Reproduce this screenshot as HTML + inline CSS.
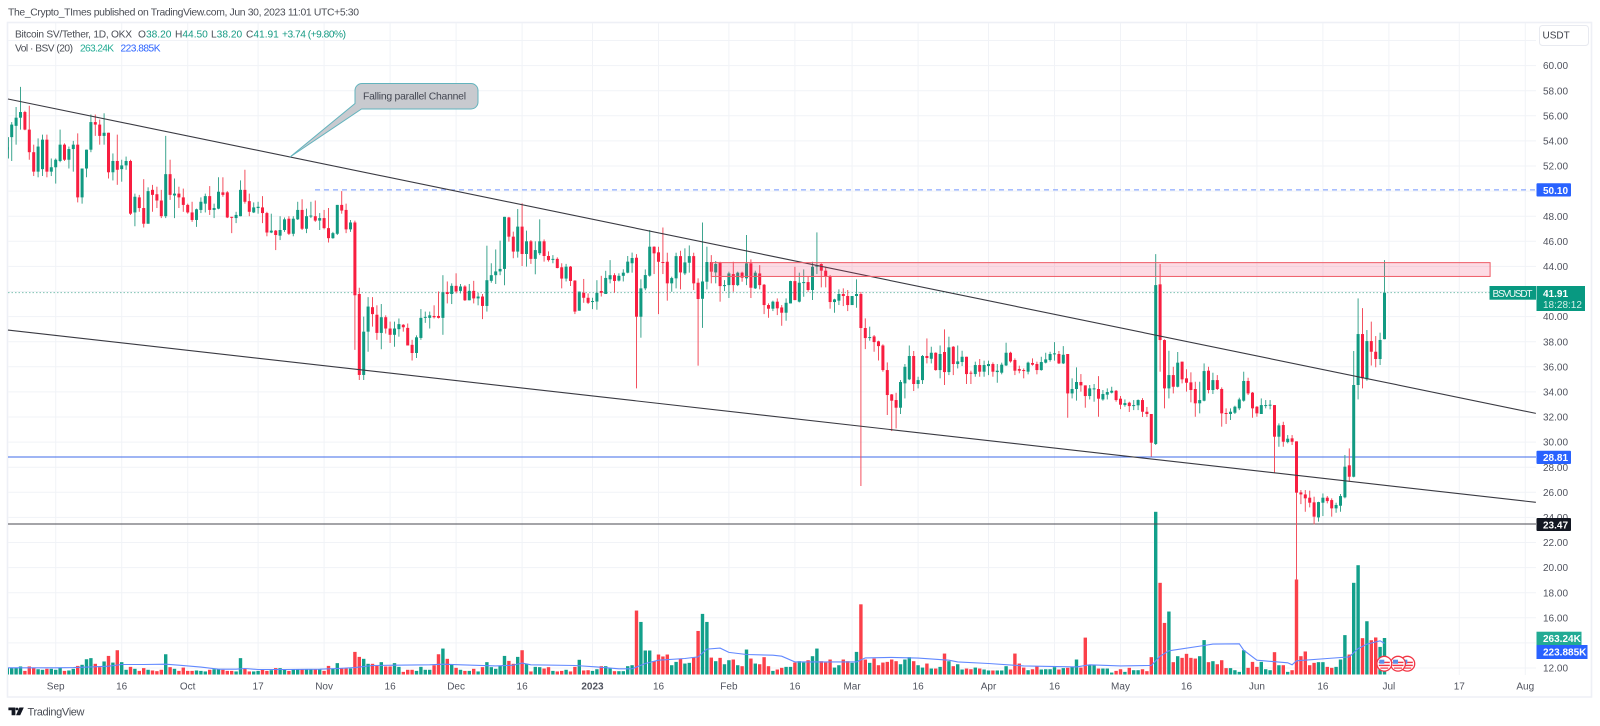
<!DOCTYPE html>
<html lang="en">
<head>
<meta charset="utf-8">
<title>BSVUSDT chart</title>
<style>
html,body{margin:0;padding:0;background:#fff;width:1600px;height:726px;overflow:hidden}
svg{position:absolute;left:0;top:0;font-family:"Liberation Sans",sans-serif}
text{font-family:"Liberation Sans",sans-serif}
</style>
</head>
<body>
<svg id="chart" xmlns="http://www.w3.org/2000/svg" width="1600" height="726" viewBox="0 0 1600 726">
  <text x="8" y="15.5" font-size="10.4" fill="#4a4d55" textLength="351">The_Crypto_TImes published on TradingView.com, Jun 30, 2023 11:01 UTC+5:30</text>
  <rect x="7.5" y="22.5" width="1584" height="674.5" fill="#fff" stroke="#eef0f6" stroke-width="1.6"/>
  <g id="grid"></g>
  <g id="volumes"></g>
  <path id="volMa" fill="none" stroke="#6289ff" stroke-width="1.1"/>
  <g id="refLines"></g>
  <g id="candles"></g>
  <g id="channels"></g>
  <rect id="zone" fill="#f23a6a" fill-opacity="0.18" stroke="#ee5b66" stroke-width="1"/>

  <g>
    <path d="M362 83.5H471a7 7 0 0 1 7 7V102a7 7 0 0 1-7 7H361.5L290 157L355 103.5V90.5a7 7 0 0 1 7-7Z" fill="#c8cacf" stroke="#62b3bd" stroke-width="1"/>
    <text x="363" y="99.5" font-size="10.4" fill="#434651" textLength="103">Falling parallel Channel</text>
  </g>

  <g font-size="10.2">
    <text x="15" y="37.5" fill="#4a4d55" textLength="117">Bitcoin SV/Tether, 1D, OKX</text>
    <text x="138" y="37.5" fill="#4a4d55">O<tspan fill="#159a83">38.20</tspan></text>
    <text x="175" y="37.5" fill="#4a4d55">H<tspan fill="#159a83">44.50</tspan></text>
    <text x="211" y="37.5" fill="#4a4d55">L<tspan fill="#159a83">38.20</tspan></text>
    <text x="246" y="37.5" fill="#4a4d55">C<tspan fill="#159a83">41.91</tspan></text>
    <text x="282" y="37.5" fill="#159a83" textLength="64">+3.74 (+9.80%)</text>
    <text x="15" y="51.5" fill="#4a4d55" textLength="58">Vol · BSV (20)</text>
    <text x="80" y="51.5" fill="#22ab94" textLength="34">263.24K</text>
    <text x="120.5" y="51.5" fill="#2962ff" textLength="40">223.885K</text>
  </g>

  <g id="priceAxis" font-size="10"></g>
  <g id="timeAxis" font-size="10"></g>

  <g>
    <rect x="1539.5" y="25.5" width="49" height="20" rx="3" fill="#fff" stroke="#e8eaf0"/>
    <text x="1542.5" y="38.5" font-size="10" fill="#3c3f48">USDT</text>
  </g>

  <g>
    <rect x="1489.5" y="286" width="46.5" height="13.7" fill="#089981"/>
    <text x="1492.5" y="297" font-size="10" fill="#f0faf7" textLength="40">BSVUSDT</text>
    <rect x="1536.5" y="286" width="48.5" height="25" fill="#089981"/>
    <text x="1543" y="297" font-size="10" font-weight="bold" fill="#fff">41.91</text>
    <text x="1543" y="308" font-size="10" fill="#d4efe8">18:28:12</text>
    <rect x="1536.5" y="450.7" width="34.5" height="13.3" rx="1" fill="#2962ff"/>
    <text x="1543" y="461.2" font-size="10" font-weight="bold" fill="#fff">28.81</text>
    <rect x="1536.5" y="183.2" width="34.5" height="13.3" rx="1" fill="#2962ff"/>
    <text x="1543" y="193.8" font-size="10" font-weight="bold" fill="#fff">50.10</text>
    <rect x="1536.5" y="518" width="34.5" height="13" rx="1" fill="#131722"/>
    <text x="1543" y="528.3" font-size="10" font-weight="bold" fill="#fff">23.47</text>
    <rect x="1536.5" y="631.7" width="45" height="13.3" fill="#22ab94"/>
    <text x="1543" y="642.2" font-size="10" font-weight="bold" fill="#fff">263.24K</text>
    <rect x="1536.5" y="645" width="51" height="14" fill="#2962ff"/>
    <text x="1543" y="655.6" font-size="10" font-weight="bold" fill="#fff">223.885K</text>
  </g>

  <g>
    <g transform="translate(1407.3 663.7)">
      <circle r="7.4" fill="#fff" stroke="#f23645" stroke-width="1.3"/>
      <rect x="-5.5" y="-2" width="11" height="1.4" fill="#f23645"/><rect x="-5.5" y="1" width="11" height="1.4" fill="#f23645"/><rect x="-4" y="3.8" width="8" height="1.2" fill="#f23645"/><rect x="-5" y="-4" width="5" height="4" fill="#5b8fe8"/>
    </g>
    <g transform="translate(1398 663.7)">
      <circle r="7.4" fill="#fff" stroke="#f23645" stroke-width="1.3"/>
      <rect x="-5.5" y="-2" width="11" height="1.4" fill="#f23645"/><rect x="-5.5" y="1" width="11" height="1.4" fill="#f23645"/><rect x="-4" y="3.8" width="8" height="1.2" fill="#f23645"/><rect x="-5" y="-4" width="5" height="4" fill="#5b8fe8"/>
    </g>
    <g transform="translate(1384.3 663.7)">
      <circle r="7.4" fill="#fff" stroke="#f23645" stroke-width="1.3"/>
      <rect x="-5.5" y="-2" width="11" height="1.4" fill="#f23645"/><rect x="-5.5" y="1" width="11" height="1.4" fill="#f23645"/><rect x="-4" y="3.8" width="8" height="1.2" fill="#f23645"/><rect x="-5" y="-4" width="5" height="4" fill="#5b8fe8"/>
    </g>
  </g>

  <g>
    <path d="M8.4 707.5H15.4V715.3H11.6V710.2H8.4ZM19.4 707.5H23.8L20.2 715.3H16Z" fill="#131722"/>
    <circle cx="17" cy="709" r="1.4" fill="#131722"/>
    <text x="27.5" y="715.3" font-size="11" fill="#4a4d55" textLength="57">TradingView</text>
  </g>
</svg>

<script>
// Day offset from 1 Sep 2022 of the first candle
const firstDay = -11;

const opens = [
53.3,54.3,55.2,55.85,56.3,54.9,53.1,51.55,51.75,54.1,
51.55,51.9,52.4,53.7,52.5,53.35,53.7,49.5,51.8,53.3,
55.5,55.3,54.4,54.65,51.5,52.4,51.75,52.05,52.4,48.3,
49.5,48.65,47.4,50.1,49.75,49.25,48,51.35,49.65,49.8,
49.5,48.9,48.3,47.7,48.5,49,49.6,48.5,48.6,49.9,
49.9,47.95,47.85,48,50.1,49.2,48.3,48.65,48.7,48.25,
46.7,46.85,46.45,46.9,47.8,46.6,47.75,48.5,47,48,
48,47.65,47.85,47.05,46.25,46.6,48.9,48.5,46.95,
47.5,41.8,35.35,38.8,40.75,40.15,38.7,39.95,39.05,38.55,
39,39.35,39.1,37.75,37.1,38.3,39.9,39.9,40.05,40.05,
39.9,41.95,41.8,42.45,42.05,42.4,41.3,42.05,41.45,41.6,
40.85,42.85,43.3,43.6,43.8,47.9,46.37,45.18,47.17,44.99,
46,44.6,45.05,46,44.83,44.54,44.6,43.93,43.03,43.98,
42.87,40.47,41.9,41.5,41.2,41.2,42.04,41.8,42.97,43.3,
42.87,43.25,43.5,44.25,44.69,39.99,42.25,43.26,45.57,45.12,
44.35,44.37,42.65,43.05,44.82,43.44,44.29,44.82,42.7,41.42,
42.78,44.35,43.52,44.29,42.43,42.51,43.39,42.51,43.5,43.05,
44.24,42.25,43.44,42.54,40.92,40.63,41.19,40.73,40.31,41.05,
42.83,41.19,42.67,42.75,42.12,43.97,44.19,43.66,43.23,41.16,
41.27,41.8,41.64,40.92,41.64,41.8,39.09,38.29,38.42,38.03,
37.7,35.74,33.8,33.35,32.74,34.68,35,36.86,34.63,34.94,
36.86,36.64,37.12,35.74,37.18,35.58,37.6,36.22,36.38,36.8,
35.53,35.42,36.14,35.61,36.06,36.22,35.58,35.53,36.11,37.12,
36.54,35.82,35.74,35.61,36.3,36.22,35.74,36.33,36.54,37.02,
37.02,36.27,37.02,33.88,34.23,34.79,34.52,33.67,34.23,34.23,
33.4,33.78,33.94,34.09,33.46,32.95,33.14,32.9,32.93,33.35,
32.42,32.24,29.85,42.57,38.13,34.28,35.34,34.41,36.41,35.08,
34.76,34.23,33.09,33.3,35.69,34.15,34.94,34.23,32.32,32.24,
32.34,32.69,33.3,34.87,33.94,32.82,32.24,32.9,32.9,32.95,
30.43,31.36,30,30.3,30.06,25.99,25.83,25.57,25.2,24,
25.17,25.57,25.38,24.72,24.93,25.6,28.15,27.24,34.55,38.61,
35,38.05,37.2,36.62,38.2
];
const highs = [
54.3,55.5,56.7,58.3,56.4,56.8,53.7,54.2,54.5,54.5,
52.6,52.6,54.9,53.8,53.55,54,54.6,51.8,53.3,56.1,
56.1,55.7,56.2,54.65,53,54.5,52.5,52.75,52.5,49.8,
49.7,50.95,50.3,50.5,50.35,50.1,54.4,52.5,51,50.35,
50.2,49,49.15,48.6,49.5,49.8,50.4,49,51.1,51.1,
50,47.95,48.35,50.85,51.7,49.8,49.1,49.15,49.6,48.35,
48.2,46.9,48,47.9,48,48,49.15,49.35,48.6,49.15,
49.25,48.25,48.5,48.65,46.75,48.9,50,49,47.7,
47.65,42.3,40,41.55,41.55,40.9,41,40.1,39.6,39.6,
39.85,39.4,39.45,38.15,38.5,40.6,40.4,40.4,40.9,42,
43.3,42.8,42.65,43.45,42.6,42.5,42.6,42.85,41.9,41.8,
45.65,44.25,45.35,46.05,47.95,47.95,46.77,48.57,49.03,46.85,
46.1,46,47.75,46.15,45.2,44.9,44.72,44.25,44.2,44.03,
42.9,42,43,41.85,41.5,42.9,43.25,43.65,44.5,43.45,
43.45,43.77,44.83,45.1,44.98,42.97,43.76,46.9,45.6,45.57,
47.1,45.09,43.18,45.09,45.25,45.44,45.67,45.09,43.05,47.5,
45.57,44.9,44.43,44.37,42.91,43.58,44.37,43.58,43.58,46.5,
44.56,43.66,44.1,42.6,41.05,41.27,41.45,40.92,41.45,42.86,
43.97,43.5,43.76,43.23,44.37,46.71,44.24,43.97,43.31,41.42,
42.17,42.25,42.12,41.64,42.97,41.96,39.86,39.2,38.53,38.08,
37.79,36.35,33.83,33.93,34.95,36.22,37.7,37.26,35.21,36.94,
38.26,37.6,37.15,37.7,38.98,38.4,37.65,37.7,37.28,36.8,
35.69,36.41,36.62,36.49,36.49,36.35,36.22,36.33,37.92,37.2,
36.67,36.09,35.87,36.41,36.67,36.41,36.8,37.12,37.2,37.97,
37.26,37.65,37.02,35.08,35.95,35.42,34.52,34.55,34.63,35.26,
34.15,34.28,34.41,34.15,33.67,33.4,33.22,33.35,33.4,33.5,
32.8,32.24,44.98,44.19,38.19,37.28,36,37.18,36.41,35.8,
35.56,34.81,34.81,36.27,36,35.53,35.34,34.36,32.69,32.69,
32.9,33.54,35.61,35.13,33.99,32.87,33.48,33.35,33.35,32.95,
31.49,31.62,30.56,30.56,30.06,26.18,26.18,26.13,25.65,25.25,
25.91,25.7,25.52,25.17,25.86,28.97,29.5,37.26,41.45,40.68,
38.93,39.6,38.45,38.72,44.5
];
const lows = [
52.6,52.4,53.7,54.9,54.85,52.5,51.2,51.1,51.2,51.1,
51.2,50.6,52.3,52.4,51.8,51.55,49.1,49,51.1,53.1,
54.4,53.7,53.7,51,50.85,50.5,50.75,51.7,48.1,47.2,
48.35,47.1,47.4,48.35,48.65,47.85,47.85,49.3,47.85,48.65,
48.35,48.2,47.55,47.15,48.25,48.3,48.1,47.85,48.55,49.55,
47.85,46.65,47.45,48,49,48,48.25,48.2,47.45,46.4,
46.65,45.3,46.1,46.75,46.5,46.4,47.7,46.9,46.65,47.85,
47.55,46.9,46.95,45.9,46.2,46.5,48.2,46.65,46.75,
37.35,34.95,34.95,37.2,39.2,38.15,37.4,38.65,37.9,37.6,
38.4,38.8,37.7,36.5,36.7,38.15,39.5,39.05,39.85,39.85,
38.55,41.05,41,41.85,41.85,41.25,41.3,41.05,40.9,39.8,
40.4,42.7,42.6,43.3,42.5,45.97,44.65,44.7,44.03,43.98,
44.2,43.37,44.9,44.38,44.38,44.25,43.85,42.25,42.8,42.44,
40.2,40.47,41.1,41,40.6,40.55,41.6,41.8,42.65,41.9,
42.8,42.8,43.45,43.5,34.28,38.32,42.1,43.18,43.39,40.2,
43.39,41.27,41.98,42.25,42.17,43.31,43.5,42.12,36.09,39.1,
42.17,42.65,42.65,41.19,42.04,41.48,41.98,42.43,42.78,42.51,
41.48,42.2,42.17,40.2,39.91,40.44,40.12,39.27,39.67,41.05,
41.3,41.13,41.58,41.98,41.32,43.39,42.33,42.33,40.63,40.31,
40.92,40.84,40.44,40.92,40.71,26.5,37.41,38.08,37.2,36.5,
35.61,32.16,30.88,31.09,32.24,33.48,34.94,34.07,34.28,34.63,
36.27,36.27,35.69,35.08,34.55,35.34,35.34,35.87,36.06,34.63,
34.63,35.21,35.21,35.21,35.34,35.21,34.73,35.4,36.06,36.33,
35.34,35.48,35.08,35.4,36.09,35.4,35.69,36.27,36.41,36.49,
36.22,36.22,31.94,33.48,33.3,34.02,32.74,33.4,33.22,32.02,
33.3,33.4,33.88,33.22,32.63,32.82,32.4,32.55,32.55,32,
32,28.84,29.77,35.61,32.69,33.48,33.88,34.36,34.68,34.02,
33.17,32.02,32.29,33.25,33.88,33.83,34.15,31.23,31.44,31.76,
32.24,32.55,33.22,33.75,31.94,32.02,32.24,32.69,32.61,27.56,
29.63,29.63,29.9,29.77,19,25.06,24.45,24.8,23.44,23.66,
24.11,25.12,24.06,24.37,24.45,25.52,26.84,27.19,33.4,34.28,
34.89,36.1,35.96,36.14,38.2
];
const closes = [
53.5,55.3,55.85,56.3,54.9,53.1,51.55,53.55,54.1,51.55,
51.9,52.5,53.7,52.5,53.35,53.7,49.5,51.8,53.3,55.5,
55.3,54.4,54.65,51.5,52.4,51.7,52.05,52.4,48.2,49.55,
48.65,47.4,50,49.7,49.25,48,51.35,49.7,49.8,49.5,
48.9,48.3,47.7,48.55,49.15,49.6,48.5,48.65,49.95,49.7,
47.9,47.9,48.1,50.1,49.15,48.35,48.7,48.75,48.25,46.7,
46.85,46.5,46.9,47.75,46.6,47.8,48.5,47,48,48.05,
47.65,47.85,47.05,46.25,46.65,48.9,48.45,46.95,47.5,
41.7,35.35,38.8,40.8,40.2,38.7,39.95,39.05,38.55,39.05,
39.4,39.15,37.7,37.1,38.35,39.9,39.98,40.1,39.95,39.9,
41.95,41.8,42.45,42,42.4,41.3,42.05,41.45,41.6,40.85,
42.9,43.3,43.6,43.8,47.95,46.37,45.18,47.17,44.99,46,
44.6,45.3,46,44.83,44.5,44.6,43.87,43.03,43.98,42.84,
40.4,41.99,41.5,41.1,41.24,41.9,41.9,43.08,43.3,42.84,
43.25,43.5,44.38,44.67,39.99,42.25,43.31,45.57,45.04,44.37,
44.3,42.65,43.07,44.82,43.52,44.32,44.82,42.65,41.4,42.8,
44.35,43.58,44.19,42.43,42.51,43.44,42.51,43.5,43.1,44.24,
42.3,43.5,42.51,40.92,40.63,41.19,40.66,40.31,41.1,42.83,
41.32,42.7,42.75,42.12,43.97,44.1,43.66,43.18,41.16,41.37,
41.8,41.64,40.92,41.64,41.8,39.09,38.29,38.37,37.97,37.65,
35.74,33.75,33.3,32.74,34.79,36,36.86,34.63,34.94,36.86,
36.7,37.12,35.74,37.02,35.58,37.55,36.22,36.43,36.8,35.42,
35.45,36.14,35.61,36.14,36.22,35.61,35.69,36.17,37.12,36.43,
35.69,35.69,35.69,36.33,36.17,35.74,36.38,36.59,37.02,37.07,
36.27,36.96,33.88,34.23,34.79,34.52,33.67,34.28,34.28,33.46,
33.83,33.99,34.09,33.35,32.98,33.11,32.87,32.95,33.35,32.42,
32.24,29.95,42.51,38.13,34.28,35.34,34.41,36.33,35,34.73,
34.15,33.09,33.35,35.66,34.15,34.94,34.23,32.29,32.24,32.42,
32.82,33.4,34.87,33.88,32.69,32.29,32.95,32.95,32.98,30.43,
31.33,30.03,30.27,30.03,25.97,25.83,25.52,25.17,24.06,25.22,
25.57,25.3,24.72,24.99,25.7,28.04,27.24,34.55,38.61,35.08,
38.05,37.2,36.62,38.14,41.91
];
// Volume in thousands of BSV
const volumes = [
48,50,50,58,26,58,50,38,34,41,
41,34,50,26,29,41,62,70,110,118,
77,53,94,134,86,175,89,34,55,41,
26,46,34,29,24,34,146,53,41,26,
50,26,26,29,26,22,34,38,38,34,
26,26,22,118,43,22,22,26,34,26,
31,46,46,34,26,38,38,38,38,38,
38,38,26,62,41,82,46,43,43,
163,127,113,77,77,62,89,58,58,82,
55,19,34,34,26,55,34,34,67,146,
187,113,70,48,34,26,26,41,22,53,
89,53,41,62,134,98,77,127,175,77,
22,55,53,43,53,26,22,26,34,22,
55,106,29,31,26,38,60,60,43,24,
24,24,60,67,461,379,173,173,96,144,
130,144,67,91,115,79,84,122,314,437,
379,122,96,120,74,103,108,67,60,180,
115,79,74,125,60,26,36,48,55,55,
86,96,86,103,132,187,96,86,108,50,
67,108,96,84,163,506,108,84,115,67,
86,91,108,96,74,108,125,96,67,50,
79,43,43,55,151,96,60,74,36,43,
38,50,43,36,29,29,29,29,60,36,
151,79,50,31,38,60,36,38,38,53,
36,46,48,55,108,50,266,65,65,43,
43,43,14,26,38,19,48,31,31,38,
24,125,1173,661,372,454,89,132,120,149,
120,115,132,248,89,96,74,103,46,46,
31,19,175,48,91,55,91,38,31,161,
67,67,19,31,685,132,166,67,84,89,
89,55,48,55,108,284,144,661,788,262,
384,247,267,199,263.24
];
const volMaDays = [-11,0,4,8,12,15,20,25,28,33,37,41,43,46,52,60,64,68,72,77,85,88,92,100,104,106,108,118,123,128,131,134,137,143,146,148,151,153,157,163,165,168,182,184,190,196,203,205,212,220,232,235,242,249,251,253,261,263,269,270,273,280,281,282,289,294,296,298,301,302];
const volMaValues = [48,48,50,55,60,72,72,74,67,53,38,38,43,36,36,38,43,50,65,67,70,74,70,62,67,82,70,65,55,41,41,79,103,115,127,183,190,159,144,139,132,91,91,120,123,118,103,91,79,62,55,70,62,65,132,171,209,219,221,175,103,84,70,99,115,127,187,219,243,223.885];

const priceTicks = [60,58,56,54,52,50,48,46,44,42,40,38,36,34,32,30,28,26,24,22,20,18,16,14,12];
const extraGridPrices = [62];
const timeTickDays = [0,15,30,46,61,76,91,106,122,137,153,168,181,196,212,227,242,257,273,288,303,319,334];
const timeTickLabels = ["Sep","16","Oct","17","Nov","16","Dec","16","2023","16","Feb","16","Mar","16","Apr","16","May","16","Jun","16","Jul","17","Aug"];

const lastPrice = 41.91;
const resistanceLevel = 50.10;
const supportLevel = 28.81;
const lowLevel = 23.47;
const zoneTop = 44.3;
const zoneBottom = 43.2;
const zoneStartDay = 149;
const zoneEndDay = 326;
const upperChannelDays = [-10.85,336.4];
const upperChannelPrices = [57.34,32.29];
const lowerChannelDays = [-10.85,336.4];
const lowerChannelPrices = [38.93,25.2];

const NS = "http://www.w3.org/2000/svg";
const xScale = d => 55.7 + 4.4 * d;
const yScale = p => 668 - (p - 12) * 12.55;
const volHeight = k => k * 0.1387;
const volBase = 674.5;
const plotLeft = 8, plotRight = 1536;

function mk(parent, tag, attrs) {
  const el = document.createElementNS(NS, tag);
  for (const k in attrs) el.setAttribute(k, attrs[k]);
  parent.appendChild(el);
  return el;
}

const grid = document.getElementById("grid");
const priceAxis = document.getElementById("priceAxis");
const timeAxis = document.getElementById("timeAxis");

extraGridPrices.concat(priceTicks).forEach(p => {
  const l = mk(grid, "line", {x1: plotLeft, x2: plotRight, y1: yScale(p), y2: yScale(p), stroke: "#f1f3f7", "stroke-width": 1});
  
  
});
priceTicks.forEach(p => {
  const t = mk(priceAxis, "text", {x: 1543, y: yScale(p) + 3.6, fill: "#50535e"});
  t.textContent = p.toFixed(2);
  
  
});
timeTickDays.forEach((d, i) => {
  const l = mk(grid, "line", {x1: xScale(d), x2: xScale(d), y1: 23, y2: 675, stroke: "#f1f3f7", "stroke-width": 1});
  
  
  const label = timeTickLabels[i];
  const t = mk(timeAxis, "text", {x: xScale(d), y: 689.3, fill: "#50535e", "text-anchor": "middle"});
  if (label === "2023") t.setAttribute("font-weight", "bold");
  t.textContent = label;
  
  
});

const volG = document.getElementById("volumes");
volumes.forEach((v, i) => {
  const d = firstDay + i;
  const h = volHeight(v);
  const up = closes[i] >= opens[i];
  const left = Math.max(xScale(d) - 1.7, plotLeft);
  const right = xScale(d) + 1.7;
  const r = mk(volG, "rect", {x: left, y: volBase - h, width: right - left, height: h, fill: up ? "#12a08b" : "#fb4049"});
  
  
});

document.getElementById("volMa").setAttribute("d",
  volMaDays.map((d, i) => (i ? "L" : "M") + Math.max(xScale(d), plotLeft).toFixed(1) + " " + (volBase - volHeight(volMaValues[i])).toFixed(1)).join(""));

const refG = document.getElementById("refLines");
const dashed = mk(refG, "line", {x1: 315, x2: plotRight, y1: yScale(resistanceLevel), y2: yScale(resistanceLevel), stroke: "#7396ff", "stroke-width": 1, "stroke-dasharray": "5 4"});


const support = mk(refG, "line", {x1: plotLeft, x2: plotRight, y1: yScale(supportLevel), y2: yScale(supportLevel), stroke: "#3f6bea", "stroke-width": 1});


const lowLine = mk(refG, "line", {x1: plotLeft, x2: plotRight, y1: yScale(lowLevel), y2: yScale(lowLevel), stroke: "#4a4a50", "stroke-width": 1});


const lastLine = mk(refG, "line", {x1: plotLeft, x2: plotRight, y1: yScale(lastPrice), y2: yScale(lastPrice), stroke: "#7fc2b2", "stroke-width": 1, "stroke-dasharray": "1.5 2"});



const candleG = document.getElementById("candles");
closes.forEach((c, i) => {
  const d = firstDay + i, x = xScale(d), o = opens[i];
  const up = c >= o;
  const wickX = Math.max(x, plotLeft + 0.5);
  const wick = mk(candleG, "line", {x1: wickX, x2: wickX, y1: yScale(highs[i]), y2: yScale(lows[i]), stroke: up ? "#3ea58f" : "#f3505f", "stroke-width": 1});
  
  
  const top = yScale(Math.max(o, c)), bot = yScale(Math.min(o, c));
  const left = Math.max(x - 1.5, plotLeft);
  const right = x + 1.5;
  const body = mk(candleG, "rect", {x: left, y: top, width: right - left, height: Math.max(bot - top, 1), fill: up ? "#119a82" : "#f81e40"});
  
  
});

const chG = document.getElementById("channels");
const upperLine = mk(chG, "line", {x1: xScale(upperChannelDays[0]), y1: yScale(upperChannelPrices[0]), x2: xScale(upperChannelDays[1]), y2: yScale(upperChannelPrices[1]), stroke: "#3a3a42", "stroke-width": 1.1});


const lowerLine = mk(chG, "line", {x1: xScale(lowerChannelDays[0]), y1: yScale(lowerChannelPrices[0]), x2: xScale(lowerChannelDays[1]), y2: yScale(lowerChannelPrices[1]), stroke: "#3a3a42", "stroke-width": 1.1});



const zone = document.getElementById("zone");
zone.setAttribute("x", xScale(zoneStartDay));
zone.setAttribute("y", yScale(zoneTop));
zone.setAttribute("width", xScale(zoneEndDay) - xScale(zoneStartDay));
zone.setAttribute("height", yScale(zoneBottom) - yScale(zoneTop));
</script>
</body>
</html>
